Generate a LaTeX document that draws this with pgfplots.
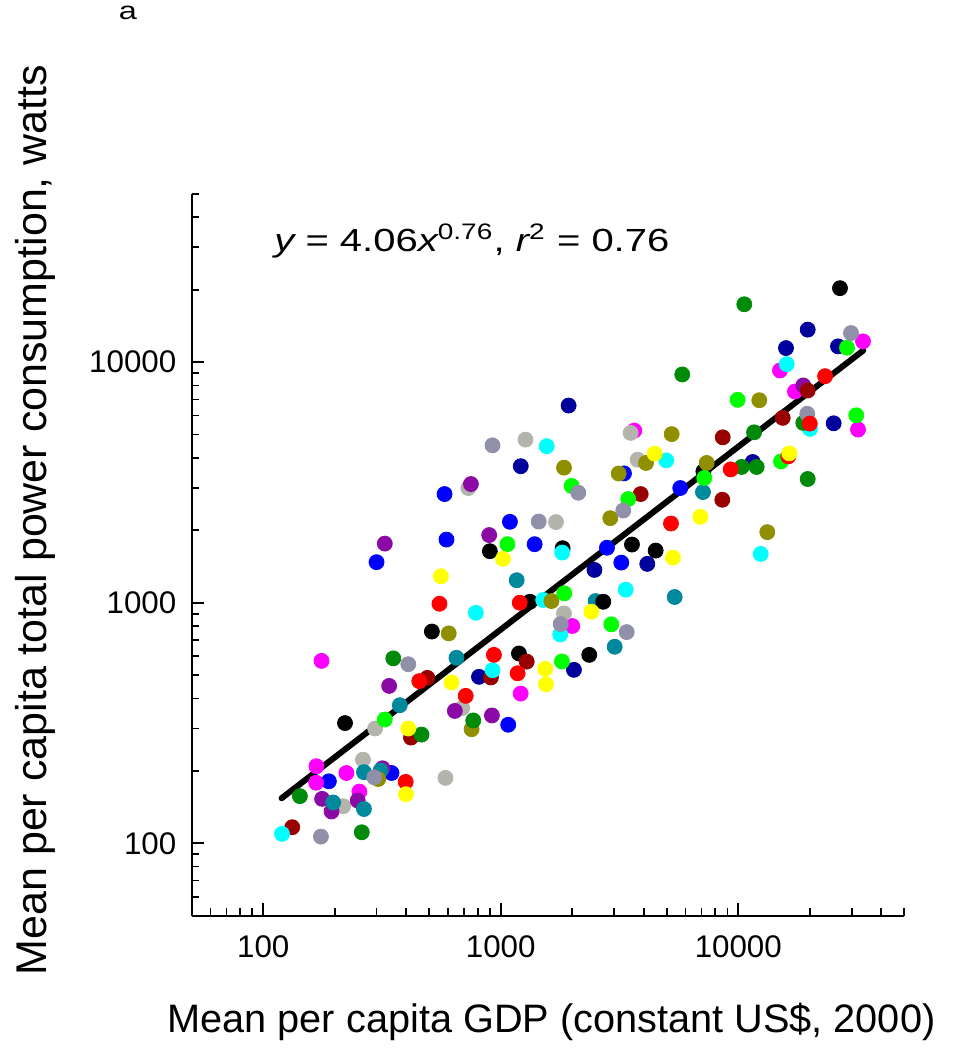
\documentclass[border=0pt]{standalone}
\usepackage{fontspec}
\setmainfont{Liberation Sans}
\usepackage{graphicx}
\usepackage{pgfplots}
\pgfplotsset{compat=1.18}
\definecolor{cred}{HTML}{FF0000}
\definecolor{clime}{HTML}{00FF00}
\definecolor{cblue}{HTML}{0000FF}
\definecolor{cnavy}{HTML}{00009C}
\definecolor{cyellow}{HTML}{FFFF00}
\definecolor{cmagenta}{HTML}{FF00FF}
\definecolor{ccyan}{HTML}{00FFFF}
\definecolor{cdarkred}{HTML}{990000}
\definecolor{cdarkgreen}{HTML}{008A0A}
\definecolor{cpurple}{HTML}{8B0AA5}
\definecolor{colive}{HTML}{8F8F00}
\definecolor{cteal}{HTML}{00899C}
\definecolor{csilver}{HTML}{B4B4AC}
\definecolor{cslate}{HTML}{9090A8}
\begin{document}
\begin{tikzpicture}
\useasboundingbox (0,0) rectangle (488pt,525pt);
\begin{axis}[
  at={(95.85pt,67.15pt)}, anchor=south west,
  scale only axis, width=356.3pt, height=360.85pt,
  xmode=log, ymode=log,
  xmin=50, xmax=50000, ymin=50, ymax=50000,
  axis x line=bottom, axis y line=left,
  axis line style={-, line width=0.9pt, black},
  tick align=inside,
  tick style={line width=0.9pt, black},
  major tick length=6.2pt, minor tick length=3.7pt,
  xtick={100,1000,10000}, xticklabels={100,1000,10000},
  ytick={100,1000,10000}, yticklabels={100,1000,10000},
  minor xtick={60,70,80,90,200,300,400,500,600,700,800,900,2000,3000,4000,5000,6000,7000,8000,9000,20000,30000,40000,50000},
  minor ytick={60,70,80,90,200,300,400,500,600,700,800,900,2000,3000,4000,5000,6000,7000,8000,9000,20000,30000,40000,50000},
  /pgf/number format/assume math mode=true,
  ticklabel style={font=\fontsize{15.65pt}{18pt}\selectfont},
  xticklabel style={yshift=-6.5pt},
  yticklabel style={xshift=-4.2pt},
  xlabel={Mean per capita GDP (constant US\$, 2000)},
  ylabel={Mean per capita total power consumption, watts},
  every axis x label/.style={at={(axis description cs:0.5049,-0.1473)}, anchor=center, font=\fontsize{19.85pt}{24pt}\selectfont},
  every axis y label/.style={at={(axis description cs:-0.2199,0.5483)}, anchor=center, rotate=90, font=\fontsize{21.5pt}{25pt}\selectfont},
  clip=false,
  every axis plot/.append style={only marks, mark=*, mark size=3.75pt},
]
\addplot[black, no markers, line width=3pt, line cap=round, only marks=false, sharp plot] coordinates {(119.5,153.9) (33570,11175)};
% navy
\addplot[cnavy, mark options={draw=cnavy, fill=cnavy}] coordinates {(19600,13650) (26290,11630) (15880,11440) (25210,5569) (11500,3846) (1931,6600) (1214,3693) (2480,1369) (4139,1450) (2033,526) (810,492)};
% blue
\addplot[cblue, mark options={draw=cblue, fill=cblue}] coordinates {(5698,2997) (3302,3448) (580,2829) (591,1830) (1093,2169) (1389,1751) (2800,1693) (3217,1468) (300,1474) (347,196) (189,181) (1075,311)};
% magenta
\addplot[cmagenta, mark options={draw=cmagenta, fill=cmagenta}] coordinates {(33500,12200) (14980,9235) (17330,7550) (31920,5244) (3649,5193) (2000,800) (1213,419) (176,573) (167.5,209) (224,196) (167,178.5) (254,164)};
% silver
\addplot[csilver, mark options={draw=csilver, fill=csilver}] coordinates {(1271,4764) (3523,5079) (3771,3931) (1708,2163) (730,2997) (1846,903) (688,365) (296,300) (263,222.6) (217,142.6) (585,187)};
% purple
\addplot[cpurple, mark options={draw=cpurple, fill=cpurple}] coordinates {(18780,8000) (749,3114) (894,1911) (325,1761) (339,451) (641,355) (918,340) (318,205) (177,153) (194,135.6) (250,150.6)};
% teal
\addplot[cteal, mark options={draw=cteal, fill=cteal}] coordinates {(7101,2884) (5397,1056) (1167,1240) (2509,1016) (3018,656) (651,590) (376,375) (265.5,197.6) (312,200.9) (197,147.8) (265.5,138.8)};
% black
\addplot[black, mark options={draw=black, fill=black}] coordinates {(26800,20300) (7130,3515) (900,1637) (1822,1685) (3568,1745) (4489,1647) (1327,1009) (2702,1009) (2358,607) (1193,615) (513,759) (221,316)};
% dark red
\addplot[cdarkred, mark options={draw=cdarkred, fill=cdarkred}] coordinates {(19600,7623) (15380,5866) (8600,4870) (8566,2679) (3883,2829) (1286,569) (909,489) (491,487) (419,275) (132.5,116.6)};
% cyan
\addplot[ccyan, mark options={draw=ccyan, fill=ccyan}] coordinates {(15990,9810) (20040,5278) (4976,3905) (12430,1595) (1561,4475) (1814,1616) (3357,1133) (1509,1026) (786,908) (1780,738) (924,524) (120,109.4)};
% olive
\addplot[colive, mark options={draw=colive, fill=colive}] coordinates {(12260,6945) (5244,5021) (7360,3810) (13250,1965) (1846,3642) (4087,3810) (3137,3444) (2892,2246) (1635,1016) (604,745.6) (754,298) (305,185)};
% dark green
\addplot[cdarkgreen, mark options={draw=cdarkgreen, fill=cdarkgreen}] coordinates {(10600,17400) (5810,8889) (11650,5108) (18780,5591) (10330,3667) (11950,3667) (19600,3268) (353,587) (766,324) (464,283) (142.7,157) (260,111.1)};
% lime
\addplot[clime, mark options={draw=clime, fill=clime}] coordinates {(28690,11480) (9940,6970) (31390,6012) (7190,3300) (15130,3868) (1988,3058) (3442,2697) (1067,1751) (1851,1094) (2920,813) (1810,570) (325,327)};
% slate gray
\addplot[cslate, mark options={draw=cslate, fill=cslate}] coordinates {(29820,13210) (19520,6101) (923,4510) (2120,2865) (1445,2175) (3280,2417) (1788,815) (3390,755) (408,555) (293.5,188) (175,106.6)};
% red
\addplot[cred, mark options={draw=cred, fill=cred}] coordinates {(23200,8743) (20000,5554) (9290,3583) (16240,4058) (5208,2134) (552,990) (1202,1000) (936,607) (1178,509) (454,472) (712,410) (398,180)};
% yellow
\addplot[cyellow, mark options={draw=cyellow, fill=cyellow}] coordinates {(16400,4177) (4446,4165) (6918,2276) (1022,1521) (5309,1540) (560,1288) (2409,917) (1539,531) (1550,458) (621,466) (408,300) (399,160)};
\node[anchor=base west, inner sep=0pt, font=\fontsize{16pt}{19pt}\selectfont] at (axis description cs:0.1155,0.92) {\scalebox{1.25}[1]{\itshape y\upshape{} = 4.06\itshape x\upshape\textsuperscript{0.76}, \itshape r\upshape\textsuperscript{2} = 0.76}};
\node[inner sep=0pt, font=\fontsize{12.5pt}{15pt}\selectfont] at (axis description cs:-0.0894,1.2508) {\scalebox{1.3}[1]{a}};
\end{axis}
\end{tikzpicture}
\end{document}
